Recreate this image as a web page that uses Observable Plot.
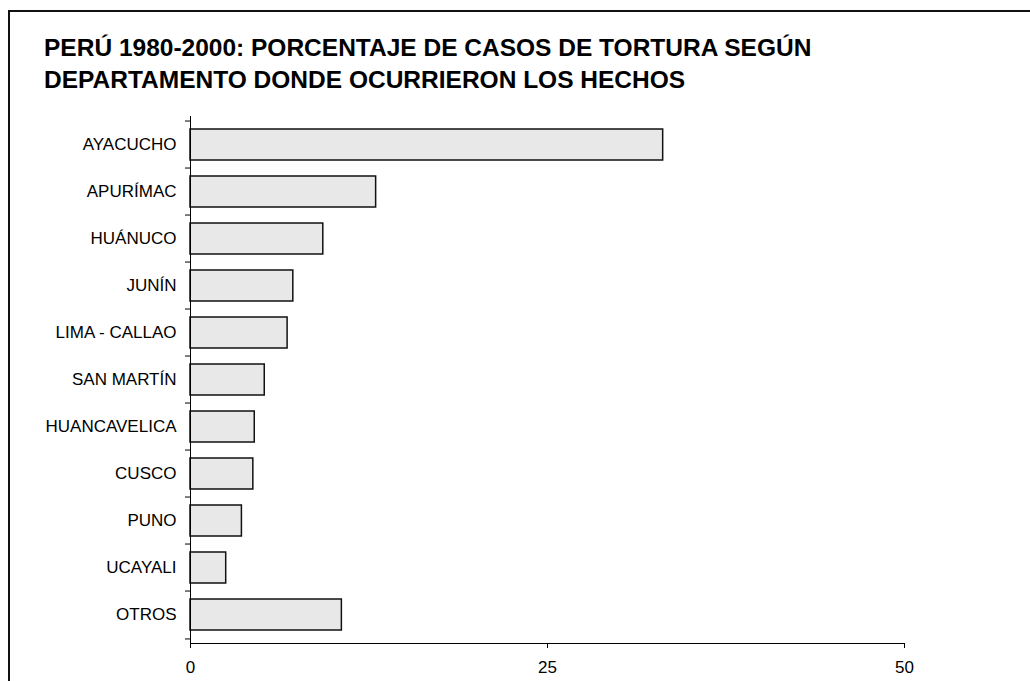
<!DOCTYPE html>
<html>
<head>
<meta charset="utf-8">
<script src="https://cdn.jsdelivr.net/npm/d3@7"></script>
<script src="https://cdn.jsdelivr.net/npm/@observablehq/plot@0.6"></script>
<style>
  html, body { margin: 0; padding: 0; background: #fff; overflow: hidden; }
  #page { position: relative; width: 1030px; height: 681px; overflow: hidden; }
  #frame { position: absolute; left: 8px; top: 10px; width: 1100px; height: 1000px; border: 2px solid #111; pointer-events: none; }
  #title { position: relative; box-sizing: border-box; height: 100px; padding: 32px 0 0 44px; margin: 0;
    font-family: "Liberation Sans", Arial, sans-serif; font-weight: bold; font-size: 24.5px; line-height: 32px; color: #000; white-space: nowrap; }
  #chart svg { display: block; }
</style>
</head>
<body>
<div id="page">
  <div id="frame"></div>
  <div id="title">PERÚ 1980-2000: PORCENTAJE DE CASOS DE TORTURA SEGÚN<br>DEPARTAMENTO DONDE OCURRIERON LOS HECHOS</div>
  <div id="chart"></div>
</div>
<script>
const departamentos = ["AYACUCHO", "APURÍMAC", "HUÁNUCO", "JUNÍN", "LIMA - CALLAO", "SAN MARTÍN", "HUANCAVELICA", "CUSCO", "PUNO", "UCAYALI", "OTROS"];
const porcentajes = [33.1, 13.0, 9.3, 7.2, 6.8, 5.2, 4.5, 4.4, 3.6, 2.5, 10.6];
const xTicks = [0, 25, 50];

const data = departamentos.map((d, i) => ({depto: d, valor: porcentajes[i]}));

const W = 1030, H = 581, mT = 16, mB = 38, mL = 190, mR = 126;
const step = (H - mT - mB) / departamentos.length;

const chart = Plot.plot({
  width: W,
  height: H,
  marginTop: mT,
  marginBottom: mB,
  marginLeft: mL,
  marginRight: mR,
  style: {fontFamily: "'Liberation Sans', Arial, sans-serif", fontSize: "17px", color: "#000", background: "transparent"},
  x: {domain: [0, 50], ticks: xTicks, tickSize: 5, tickPadding: 12, label: null, line: true},
  y: {domain: departamentos, paddingInner: 0.35, paddingOuter: 0.175, label: null, axis: null},
  marks: [
    Plot.barX(data, {x: "valor", y: "depto", fill: "#e8e8e8", stroke: "#111", strokeWidth: 1.5}),
    Plot.axisY({tickSize: 0, tickPadding: 14, fontSize: 17, label: null}),
    Plot.axisY({ticks: departamentos, tickSize: 5, dy: -step / 2, text: null, label: null}),
    Plot.axisY({ticks: [departamentos[departamentos.length - 1]], tickSize: 5, dy: step / 2, text: null, label: null}),
    Plot.ruleX([0], {stroke: "#000"})
  ]
});
document.getElementById("chart").appendChild(chart);
</script>
</body>
</html>
